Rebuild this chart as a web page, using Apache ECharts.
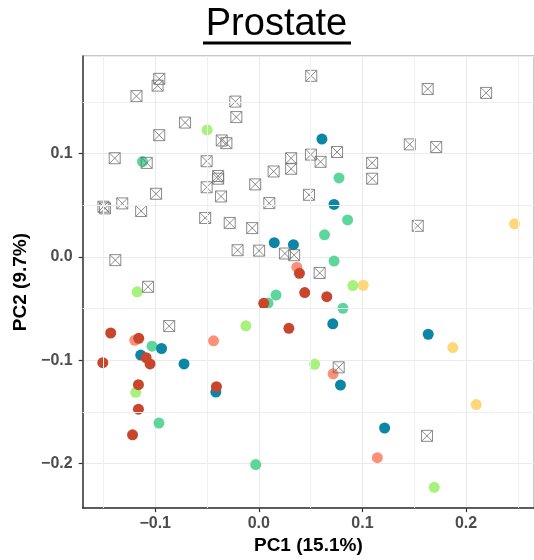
<!DOCTYPE html>
<html>
<head>
<meta charset="utf-8">
<script src="https://cdn.jsdelivr.net/npm/echarts@6/dist/echarts.min.js"></script>
<style>
  html, body { margin: 0; padding: 0; background: #fff; }
  #chart { width: 534px; height: 560px; }
</style>
</head>
<body>
<div id="chart"></div>
<script>
// PCA scores, one array per group
const boxPts = [
  [-0.0961, 0.1722], [-0.0977, 0.1656], [-0.1181, 0.1555], [0.0506, 0.1751], [0.1630, 0.1624],
  [0.2194, 0.1586], [-0.0227, 0.1502], [-0.0217, 0.1352], [-0.0712, 0.1299], [-0.0961, 0.1177],
  [-0.0358, 0.1126], [-0.0313, 0.1100], [0.1457, 0.1088], [0.1712, 0.1062], [-0.1391, 0.0954],
  [-0.1082, 0.0909], [-0.0504, 0.0925], [0.0312, 0.0954], [0.0312, 0.0852], [0.0143, 0.0826],
  [-0.0393, 0.0782], [-0.0393, 0.0756], [-0.0504, 0.0673], [-0.0035, 0.0701], [-0.0365, 0.0584],
  [-0.0992, 0.0610], [0.0503, 0.0989], [0.0755, 0.1014], [0.0596, 0.0919], [0.1094, 0.0909],
  [0.1094, 0.0756], [0.0484, 0.0600], [-0.1500, 0.0485], [-0.1484, 0.0469], [-0.1318, 0.0517],
  [-0.1136, 0.0443], [0.0101, 0.0520], [-0.0518, 0.0376], [-0.0281, 0.0328], [-0.0064, 0.0278],
  [0.1534, 0.0300], [-0.0205, 0.0064], [0.0003, 0.0060], [0.0252, 0.0032], [0.0341, 0.0016],
  [-0.1385, -0.0032], [-0.1069, -0.0290], [0.0587, -0.0156], [-0.0865, -0.0670], [0.0771, -0.1069],
  [0.1623, -0.1732]
];
const darkRed = [
  [0.0392, -0.0160], [0.0443, -0.0346], [0.0047, -0.0450], [0.0290, -0.0692], [0.0656, -0.0386],
  [-0.1430, -0.0737], [-0.1159, -0.0788], [-0.1088, -0.0976], [-0.1050, -0.1036], [-0.1506, -0.1024],
  [-0.1162, -0.1237], [-0.0409, -0.1256], [-0.1162, -0.1474], [-0.1219, -0.1722]
];
const salmon = [
  [0.0367, -0.0100], [-0.1197, -0.0807], [-0.0437, -0.0813], [0.0717, -0.1132], [0.1144, -0.1943]
];
const lightGreen = [
  [-0.0499, 0.1228], [-0.1174, -0.0338], [-0.0125, -0.0667], [0.0908, -0.0278], [0.0539, -0.1040],
  [-0.1188, -0.1311], [0.1693, -0.2230]
];
const tealGreen = [
  [-0.1123, 0.0922], [0.0774, 0.0763], [0.0857, 0.0357], [0.0634, 0.0213], [0.0726, -0.0041],
  [0.0166, -0.0370], [0.0089, -0.0447], [0.0812, -0.0498], [-0.1031, -0.0864], [-0.0964, -0.1608],
  [-0.0030, -0.2010]
];
const darkTeal = [
  [0.0149, 0.0137], [0.0334, 0.0118], [0.0609, 0.1139], [0.0726, 0.0507], [0.0714, -0.0648],
  [-0.0939, -0.0887], [-0.1140, -0.0950], [-0.0722, -0.1036], [-0.0415, -0.1308], [0.0788, -0.1241],
  [0.1635, -0.0749], [0.1214, -0.1656]
];
const yellow = [
  [0.2468, 0.0319], [0.1008, -0.0275], [0.1872, -0.0878], [0.2099, -0.1429]
];

// minor grid positions (half way between the labelled ticks)
const xMinor = [-0.15, -0.05, 0.05, 0.15, 0.25];
const yMinor = [-0.15, -0.05, 0.05, 0.15];

const chart = echarts.init(document.getElementById('chart'));

const minus = (v) => String(v.toFixed(1)).replace('-', '\u2212');

const dot = (name, data, color) => ({
  name: name,
  type: 'scatter',
  data: data,
  symbol: 'circle',
  symbolSize: 11,
  itemStyle: { color: color, opacity: 1 },
  z: 3,
});

chart.setOption({
  animation: false,
  backgroundColor: '#fff',
  graphic: [
    {
      type: 'text',
      x: 276.5,
      y: 25,
      style: {
        text: 'Prostate',
        font: '38px "Liberation Sans", Arial, sans-serif',
        fill: '#000',
        textAlign: 'center',
        textVerticalAlign: 'middle',
      },
    },
    {
      type: 'rect',
      shape: { x: 203, y: 41.5, width: 148, height: 3 },
      style: { fill: '#000' },
    },
  ],
  grid: {
    left: 82.7,
    right: -3,
    top: 56,
    bottom: 47,
    show: true,
    borderColor: '#8c8c8c',
    borderWidth: 1,
    backgroundColor: '#fff',
  },
  xAxis: {
    type: 'value',
    min: -0.17,
    max: 0.2656,
    name: 'PC1 (15.1%)',
    nameLocation: 'middle',
    nameGap: 26,
    nameTextStyle: {
      color: '#000',
      fontWeight: 'bold',
      fontSize: 19,
      fontFamily: '"Liberation Sans", Arial, sans-serif',
    },
    axisLine: { onZero: false, lineStyle: { color: '#333', width: 1.5 } },
    axisTick: { show: true, length: 4, lineStyle: { color: '#333', width: 1.2 } },
    axisLabel: {
      margin: 7,
      color: '#4d4d4d',
      fontWeight: 'bold',
      fontSize: 16,
      fontFamily: '"Liberation Sans", Arial, sans-serif',
      showMinLabel: false,
      showMaxLabel: false,
      formatter: minus,
    },
    splitLine: { show: true, lineStyle: { color: '#ebebeb', width: 1.2 } },
  },
  yAxis: {
    type: 'value',
    min: -0.2431,
    max: 0.1943,
    name: 'PC2 (9.7%)',
    nameLocation: 'middle',
    nameGap: 41,
    nameTextStyle: {
      color: '#000',
      fontWeight: 'bold',
      fontSize: 19,
      fontFamily: '"Liberation Sans", Arial, sans-serif',
    },
    axisLine: { show: true, onZero: false, lineStyle: { color: '#333', width: 1.5 } },
    axisTick: { show: true, length: 4, lineStyle: { color: '#333', width: 1.2 } },
    axisLabel: {
      margin: 10,
      color: '#4d4d4d',
      fontWeight: 'bold',
      fontSize: 16,
      fontFamily: '"Liberation Sans", Arial, sans-serif',
      showMinLabel: false,
      showMaxLabel: false,
      formatter: minus,
    },
    splitLine: { show: true, lineStyle: { color: '#ebebeb', width: 1.2 } },
  },
  series: [
    {
      // minor grid lines
      type: 'scatter',
      data: [],
      z: 1,
      silent: true,
      markLine: {
        silent: true,
        symbol: 'none',
        label: { show: false },
        lineStyle: { color: '#efefef', width: 1, type: 'solid' },
        data: xMinor.map((v) => ({ xAxis: v })).concat(yMinor.map((v) => ({ yAxis: v }))),
      },
    },
    dot('tealGreen', tealGreen, '#5cd69a'),
    dot('lightGreen', lightGreen, '#a6f27c'),
    dot('salmon', salmon, '#fa9178'),
    dot('darkTeal', darkTeal, '#0b87a5'),
    dot('darkRed', darkRed, '#c8472c'),
    dot('yellow', yellow, '#fed77a'),
    {
      name: 'other',
      type: 'scatter',
      data: boxPts,
      symbol: 'path://M0 0H10V10H0ZM0 0L10 10M10 0L0 10',
      symbolSize: 11,
      itemStyle: { color: 'rgba(0,0,0,0)', borderColor: '#6e6e6e', borderWidth: 1 },
      z: 4,
    },
  ],
});
</script>
</body>
</html>
